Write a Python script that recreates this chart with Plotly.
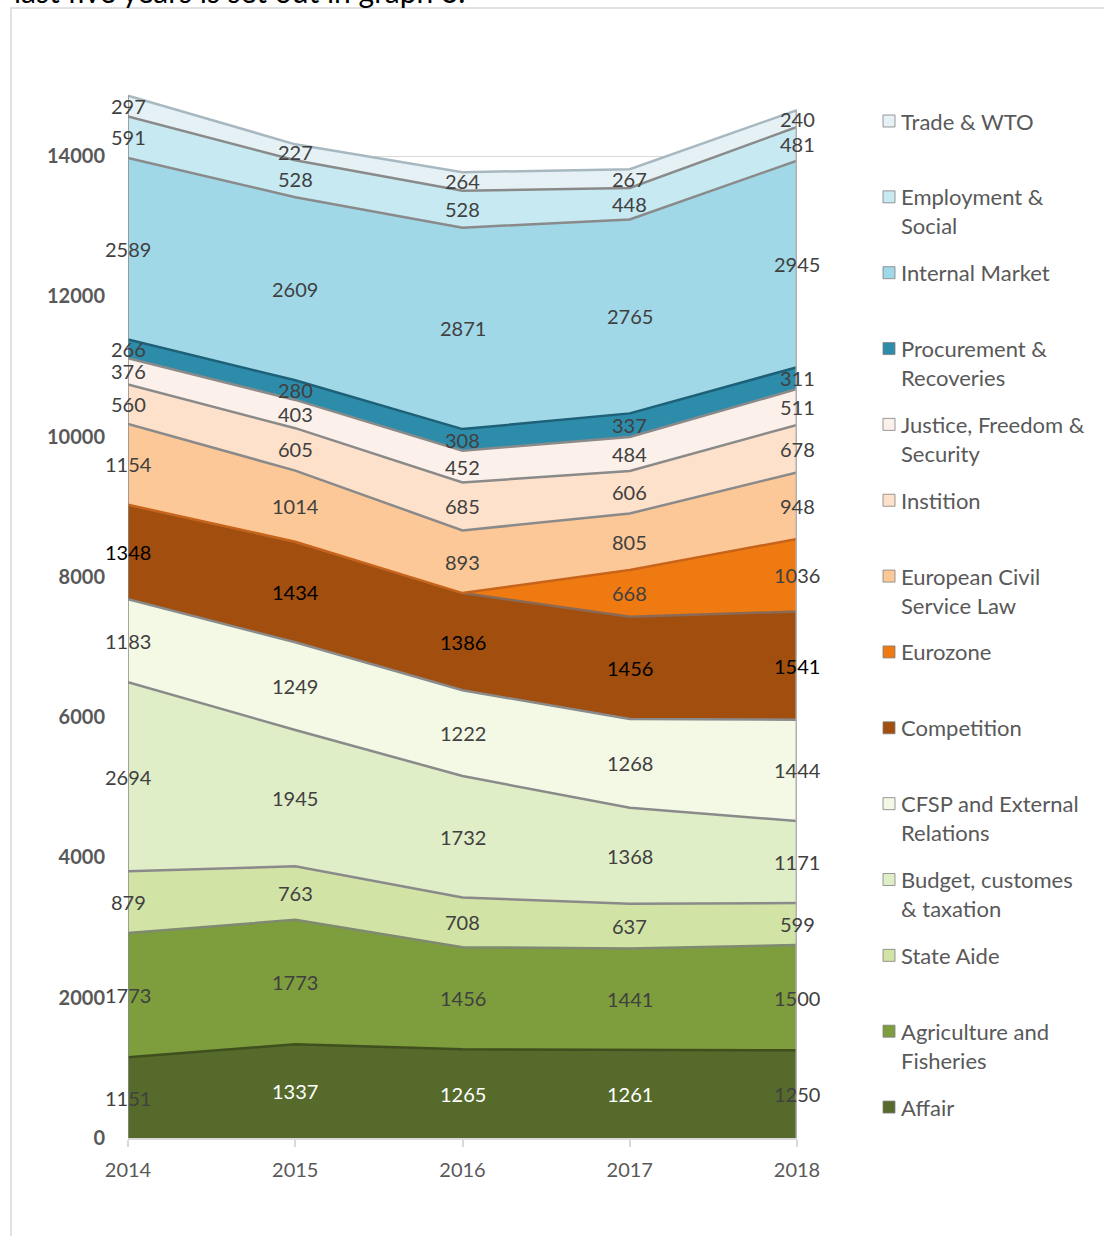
import plotly.graph_objects as go

years = [2014, 2015, 2016, 2017, 2018]

# series, bottom to top
affair = [1151, 1337, 1265, 1261, 1250]
agriculture = [1773, 1773, 1456, 1441, 1500]
state_aide = [879, 763, 708, 637, 599]
budget = [2694, 1945, 1732, 1368, 1171]
cfsp = [1183, 1249, 1222, 1268, 1444]
competition = [1348, 1434, 1386, 1456, 1541]
eurozone = [0, 0, 0, 668, 1036]
civil_service = [1154, 1014, 893, 805, 948]
institution = [560, 605, 685, 606, 678]
justice = [376, 403, 452, 484, 511]
procurement = [266, 280, 308, 337, 311]
internal_market = [2589, 2609, 2871, 2765, 2945]
employment = [591, 528, 528, 448, 481]
trade = [297, 227, 264, 267, 240]

names = ["Affair", "Agriculture and Fisheries", "State Aide", "Budget, customes & taxation",
         "CFSP and External Relations", "Competition", "Eurozone", "European Civil Service Law",
         "Instition", "Justice, Freedom & Security", "Procurement & Recoveries",
         "Internal Market", "Employment & Social", "Trade & WTO"]
legend_lines = [["Affair"], ["Agriculture and", "Fisheries"], ["State Aide"],
                ["Budget, customes", "& taxation"], ["CFSP and External", "Relations"],
                ["Competition"], ["Eurozone"], ["European Civil", "Service Law"],
                ["Instition"], ["Justice, Freedom &", "Security"],
                ["Procurement &", "Recoveries"], ["Internal Market"],
                ["Employment &", "Social"], ["Trade & WTO"]]
series = [affair, agriculture, state_aide, budget, cfsp, competition, eurozone,
          civil_service, institution, justice, procurement, internal_market, employment, trade]

fills = ["#566a2b", "#7e9e3d", "#d1e3a5", "#e0eec8", "#f4f9e5", "#a14e0e", "#f07a12",
         "#fdc898", "#fde1cb", "#fcf1ea", "#2e8cab", "#a0d8e8", "#c6e9f2", "#e6f1f5"]
lines = ["#3f4f1e", "#7f8a70", "#8a8a8a", "#8a8a8a", "#8a8a8a", "#8a6a55", "#c8641a",
         "#8a8a8a", "#8a8a8a", "#8a8a8a", "#1d6077", "#8a8a8a", "#8a8a8a", "#a8b8c0"]

lbl_default = "#404040"
label_colors = [[lbl_default] * 5 for _ in series]
label_colors[0] = ["#404040", "#ffffff", "#ffffff", "#ffffff", "#404040"]
label_colors[5] = ["#000000"] * 5

FONT = "Lato, 'Open Sans', sans-serif"

fig = go.Figure()

for i, (nm, vals) in enumerate(zip(names, series)):
    fig.add_trace(go.Scatter(
        x=years, y=vals, name=nm, stackgroup="one", mode="lines",
        line=dict(color=lines[i], width=2.5), fillcolor=fills[i],
        hoverinfo="skip", showlegend=False))

# side edges
totals = [sum(s[j] for s in series) for j in range(5)]
fig.add_trace(go.Scatter(x=[years[0], years[0]], y=[0, totals[0]], mode="lines",
                         line=dict(color="#8a8a8a", width=1.5), showlegend=False, hoverinfo="skip"))
fig.add_trace(go.Scatter(x=[years[-1], years[-1]], y=[0, totals[-1]], mode="lines",
                         line=dict(color="#b0b0b0", width=3), showlegend=False, hoverinfo="skip"))

annotations = []

# data labels at band midpoints
cum = [0] * 5
for i, vals in enumerate(series):
    for j in range(5):
        mid = cum[j] + vals[j] / 2
        cum[j] += vals[j]
        if vals[j]:
            annotations.append(dict(x=years[j], y=mid, xref="x", yref="y", text=str(vals[j]),
                                    showarrow=False, xanchor="center", yanchor="middle", yshift=0,
                                    font=dict(family=FONT, size=20, color=label_colors[i][j])))

W, H = 1104, 1236
L, R, T, B = 128, 307, 60, 98
pw, ph = W - L - R, H - T - B
ymax = (1138 - T) / 0.07014


def px(x):
    return (x - L) / pw


def py(y):
    return (H - B - y) / ph


shapes = []
# legend (manual)
for k in range(len(names)):
    idx = len(names) - 1 - k  # top entry first
    yc = 121 + k * 75.85
    shapes.append(dict(type="rect", xref="paper", yref="paper",
                       x0=px(883), x1=px(895), y0=py(yc - 6), y1=py(yc + 6),
                       fillcolor=fills[idx], line=dict(color="#7f7f7f", width=0.8)))
    for li, t in enumerate(legend_lines[idx]):
        annotations.append(dict(text=t, xref="paper", yref="paper", x=px(899), y=py(yc + li * 29),
                                xanchor="left", yanchor="middle", showarrow=False,
                                font=dict(family=FONT, size=22, color="#595959")))

# cut-off document text at the top
annotations.append(dict(text="last five years is set out in graph 3.", xref="paper", yref="paper",
                        x=px(12), y=py(11), xanchor="left", yanchor="bottom", showarrow=False,
                        font=dict(family=FONT, size=30, color="#000000")))

# frame
shapes.append(dict(type="rect", xref="paper", yref="paper", x0=px(11), x1=px(1112),
                   y0=py(1245), y1=py(8), line=dict(color="#d9d9d9", width=1.5),
                   fillcolor="rgba(0,0,0,0)", layer="below"))

fig.update_layout(
    width=W, height=H, margin=dict(l=L, r=R, t=T, b=B),
    paper_bgcolor="white", plot_bgcolor="white",
    font=dict(family=FONT, size=20, color="#595959"),
    showlegend=False,
    annotations=annotations, shapes=shapes,
    xaxis=dict(range=[2014, 2018], tickvals=years, ticktext=[str(y) for y in years],
               showgrid=False, zeroline=False, showline=True, linecolor="#d9d9d9", linewidth=2,
               ticks="outside", ticklen=7, tickcolor="#d9d9d9", tickwidth=2,
               tickfont=dict(family=FONT, size=20, color="#595959"), ticklabelstandoff=6),
    yaxis=dict(range=[0, ymax], tickvals=list(range(0, 14001, 2000)),
               ticktext=[str(v) for v in range(0, 14001, 2000)],
               showgrid=True, gridcolor="#d9d9d9", gridwidth=1, zeroline=False, showline=False,
               ticks="", tickfont=dict(family=FONT, size=20, color="#595959", weight="bold"),
               ticklabelstandoff=22),
)

fig.write_html("out.html")
